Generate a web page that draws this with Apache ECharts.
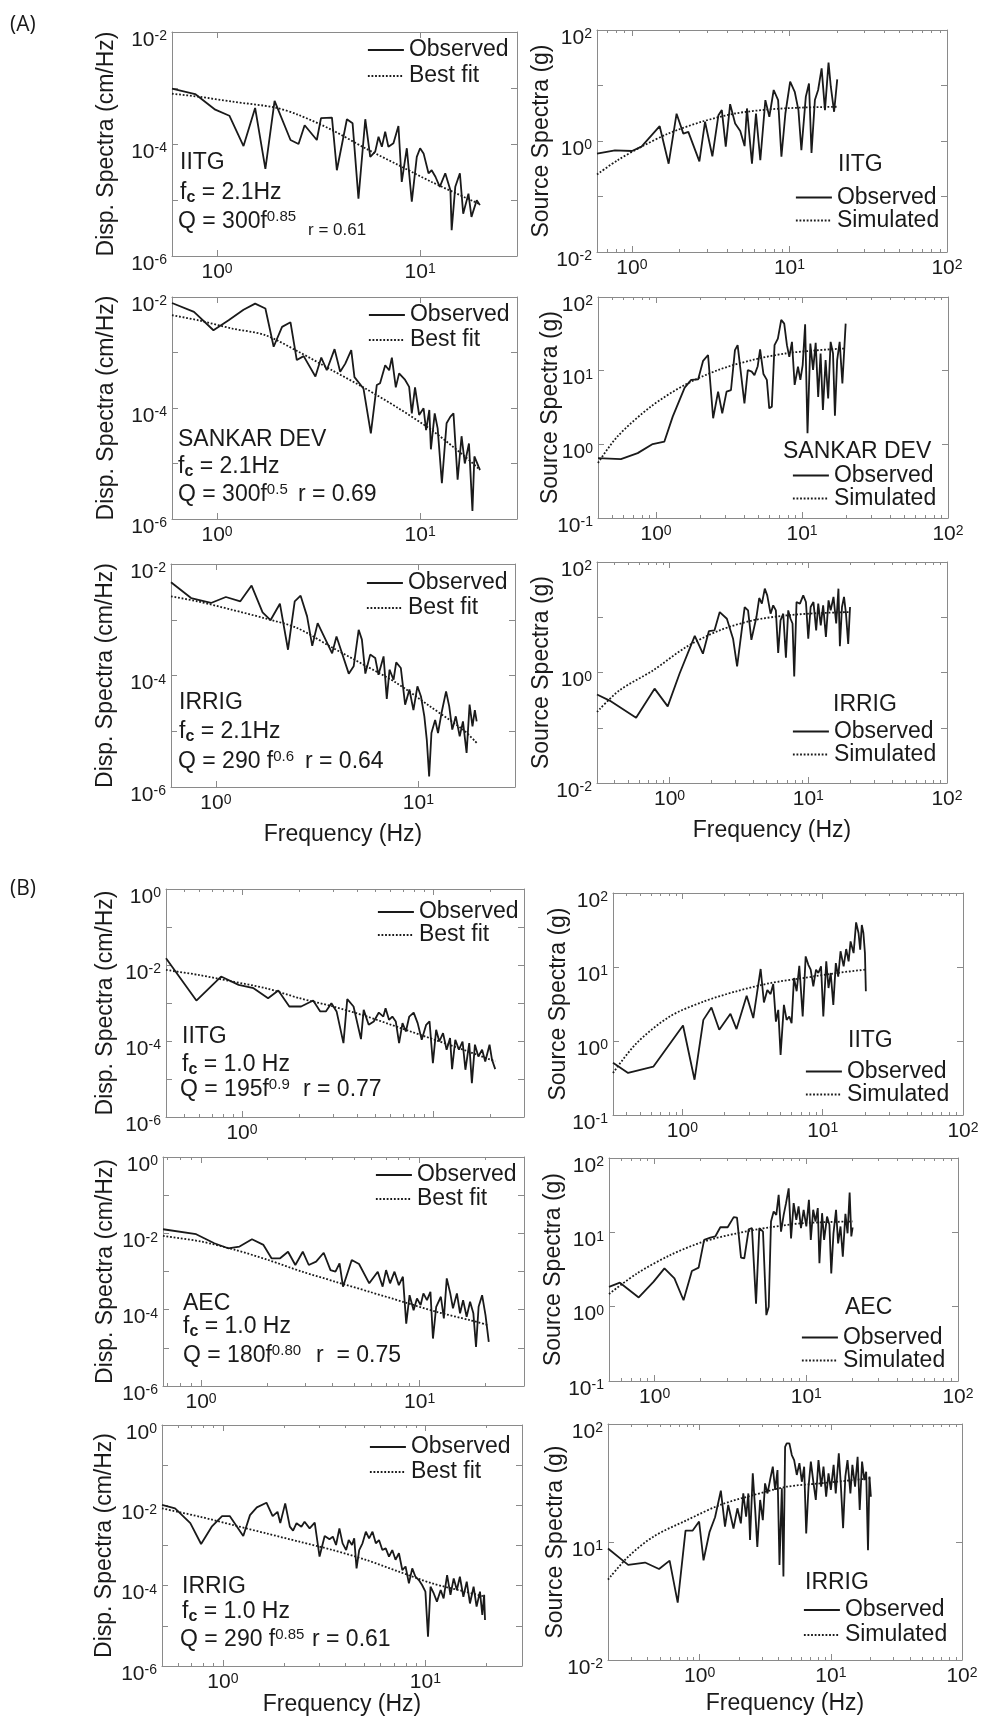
<!DOCTYPE html>
<html>
<head>
<meta charset="utf-8">
<script src="https://cdn.jsdelivr.net/npm/echarts@6.0.0/dist/echarts.min.js"></script>
<style>
  html, body { margin: 0; padding: 0; background: #fff; }
  #main { width: 982px; height: 1718px; }
</style>
</head>
<body>
<div id="main"></div>
<script>
var FONT = '"Liberation Sans", Arial, Helvetica, sans-serif';
var INK = '#1a1a1a';
var FRAME = '#8a8a8a';

// tick labels: exponent of the tick -> printed text
var dispTickExpA = [-6, -4, -2];
var dispTickTextA = ['10^-6', '10^-4', '10^-2'];
var dispTickExpB = [-6, -4, -2, 0];
var dispTickTextB = ['10^-6', '10^-4', '10^-2', '10^0'];
var srcTickExpWide = [-2, 0, 2];
var srcTickTextWide = ['10^-2', '10^0', '10^2'];
var srcTickExp3 = [-1, 0, 1, 2];
var srcTickText3 = ['10^-1', '10^0', '10^1', '10^2'];
var srcTickExpIrrigB = [0, 1, 2];
var srcTickTextIrrigB = ['10^-2', '10^1', '10^2']; // as printed in the figure
var freqTickExp = [0, 1];
var freqTickText = ['10^0', '10^1'];
var freqTickExpWide = [0, 1, 2];
var freqTickTextWide = ['10^0', '10^1', '10^2'];
var freqTickExpB1 = [0];
var freqTickTextB1 = ['10^0'];

// ---- (A) IITG ----
var aIitgDispObs = [[0.6,9.7e-4],[0.78,7.8e-4],[0.98,4.1e-4],[1.15,3.2e-4],[1.35,9.2e-5],[1.54,4.4e-4],[1.73,3.6e-5],[1.92,5.9e-4],[2.30,1.18e-4],[2.52,1.0e-4],[2.70,2.16e-4],[3.10,1.18e-4],[3.25,2.9e-4],[3.68,2.96e-4],[3.89,3.4e-5],[4.36,2.77e-4],[4.65,2.34e-4],[4.97,1.06e-5],[5.37,2.77e-4],[5.68,5.9e-5],[6.01,7.3e-5],[6.24,1.35e-4],[6.48,8.9e-5],[6.73,1.66e-4],[6.98,8.9e-5],[7.39,1.03e-4],[7.82,2.1e-4],[8.12,2.1e-5],[8.60,8.4e-5],[9.10,9.3e-6],[9.63,5.9e-5],[10.0,8.4e-5],[10.4,6.8e-5],[11.0,3.0e-5],[11.4,3.4e-5],[11.9,2.6e-5],[12.5,1.72e-5],[13.3,3.0e-5],[14.1,1.5e-5],[14.3,2.9e-6],[14.9,1.72e-5],[15.7,3.0e-5],[16.3,5.7e-6],[17.3,1.3e-5],[17.9,5.0e-6],[19.0,9.9e-6],[19.7,8.1e-6]];
var aIitgDispFit = [[0.6,7.9e-4],[0.81,7.0e-4],[1.19,5.7e-4],[1.92,4.5e-4],[2.52,3.3e-4],[3.68,1.78e-4],[5.37,8.4e-5],[7.82,4.2e-5],[11.4,2.1e-5],[19.7,8.4e-6]];
var aIitgSrcObs = [[0.6,0.59],[0.78,0.68],[1.0,0.66],[1.15,0.79],[1.50,1.85],[1.71,0.39],[1.92,3.1],[2.12,1.36],[2.28,1.46],[2.68,0.43],[2.91,2.22],[3.24,0.53],[3.54,2.92],[3.72,3.6],[3.94,0.79],[4.20,4.6],[4.52,2.07],[4.87,1.52],[5.19,0.81],[5.37,3.86],[5.78,0.39],[6.13,3.13],[6.53,0.45],[7.03,5.46],[7.45,2.73],[7.94,8.3],[8.47,5.46],[8.89,0.52],[9.42,3.13],[10.1,11.7],[10.8,7.7],[11.4,3.6],[11.9,0.68],[12.7,6.3],[13.3,10.9],[13.8,0.61],[14.5,5.46],[15.2,8.3],[16.0,20.3],[16.8,3.6],[17.7,25.8],[18.3,9.5],[19.2,3.36],[20.1,12.9]];
var aIitgSrcSim = [[0.6,0.25],[0.81,0.45],[1.15,0.79],[1.70,1.36],[2.77,2.22],[4.52,3.13],[7.38,3.7],[12.0,4.0],[20.1,4.14]];

// ---- (A) SANKAR DEV ----
var aSankarDispObs = [[0.6,7.8e-3],[0.77,5.4e-3],[0.96,2.52e-3],[1.14,3.8e-3],[1.35,5.9e-3],[1.54,7.6e-3],[1.73,6.2e-3],[1.90,1.27e-3],[2.09,2.9e-3],[2.30,3.5e-3],[2.47,7.3e-4],[2.67,8.6e-4],[3.05,3.7e-4],[3.26,8.1e-4],[3.47,4.8e-4],[3.79,1.15e-3],[4.04,4.5e-4],[4.28,6.3e-4],[4.58,1.10e-3],[4.75,3.6e-4],[5.26,2.25e-4],[5.72,3.5e-5],[6.12,2.6e-4],[6.35,2.8e-4],[6.73,5.9e-4],[7.04,4.8e-4],[7.26,8.1e-4],[7.59,2.35e-4],[7.88,4.2e-4],[8.44,3.2e-4],[8.83,2.4e-4],[9.10,8.0e-5],[9.44,2.35e-4],[9.89,7.5e-5],[10.4,9.9e-5],[10.7,4.0e-5],[11.1,9.2e-5],[11.3,1.8e-5],[11.8,8.0e-5],[12.2,4.3e-5],[12.8,4.4e-6],[13.5,5.3e-5],[14.1,7.0e-5],[14.6,8.0e-5],[15.3,5.1e-6],[16.0,3.1e-5],[16.6,1.0e-5],[17.4,2.3e-5],[18.1,1.4e-6],[18.5,1.34e-5],[19.4,8.8e-6],[19.7,7.7e-6]];
var aSankarDispFit = [[0.6,4.7e-3],[0.81,3.8e-3],[1.19,2.7e-3],[1.73,2.05e-3],[2.52,1.03e-3],[3.68,4.8e-4],[5.37,2.25e-4],[7.82,9.9e-5],[11.4,4.0e-5],[16.6,1.34e-5],[19.7,7.7e-6]];
var aSankarSrcObs = [[0.4,0.65],[0.574,0.63],[0.748,0.76],[0.948,1.01],[1.14,1.09],[1.30,2.38],[1.57,5.9],[1.74,7.5],[1.94,7.6],[2.10,13.6],[2.27,16.3],[2.46,2.26],[2.66,5.2],[2.84,2.64],[3.04,5.2],[3.26,5.46],[3.47,19.0],[3.62,22.2],[4.03,3.6],[4.25,10.2],[4.52,9.7],[4.72,8.7],[4.97,11.5],[5.16,19.4],[5.44,9.0],[5.74,7.5],[5.96,3.08],[6.21,3.25],[6.48,22.2],[6.83,27.3],[7.20,49],[7.55,43.5],[7.88,22.2],[8.18,15.4],[8.53,24.6],[8.90,6.4],[9.38,11.3],[9.74,7.5],[10.1,11.9],[10.5,42.7],[10.9,1.42],[11.4,23.4],[11.9,10.2],[12.4,23.9],[12.9,4.4],[13.4,17.1],[13.9,2.92],[14.5,13.9],[15.1,4.2],[15.7,24.6],[16.3,17.1],[16.8,2.45],[17.4,13.9],[18.1,24.6],[18.9,6.7],[19.9,43.5]];
var aSankarSrcSim = [[0.4,0.56],[0.544,1.28],[0.92,3.25],[1.57,6.4],[2.66,10.2],[4.52,13.9],[7.67,17.1],[13.0,19.0],[19.9,20]];

// ---- (A) IRRIG ----
var aIrrigDispObs = [[0.6,4.7e-3],[0.754,2.45e-3],[0.945,2.0e-3],[1.12,2.56e-3],[1.32,2.14e-3],[1.50,4.1e-3],[1.70,1.36e-3],[1.86,9.8e-4],[2.07,1.94e-3],[2.27,2.9e-4],[2.45,2.14e-3],[2.62,2.7e-3],[2.82,1.15e-3],[2.99,3.4e-4],[3.18,8.7e-4],[3.75,2.5e-4],[3.94,5.0e-4],[4.53,1.08e-4],[4.79,1.46e-4],[5.07,6.6e-4],[5.26,4.4e-4],[5.47,1.08e-4],[5.78,2.37e-4],[6.12,2.06e-4],[6.35,1.03e-4],[6.73,2.2e-4],[6.98,3.8e-5],[7.20,1.27e-4],[7.54,8.4e-5],[7.77,1.72e-4],[8.19,1.36e-4],[8.60,3.0e-5],[9.03,5.6e-5],[9.45,2.4e-5],[9.89,6.4e-5],[10.3,4.2e-5],[10.7,1.85e-5],[11.0,7.1e-6],[11.3,1.55e-6],[11.6,9.3e-6],[12.1,1.6e-5],[12.5,9.3e-6],[13.0,2.1e-5],[13.7,5.2e-5],[14.2,2.8e-5],[14.7,1.07e-5],[15.3,1.85e-5],[16.0,8.1e-6],[16.6,1.5e-5],[17.3,4.1e-6],[17.9,3.0e-5],[18.5,1.22e-5],[19.0,2.4e-5],[19.4,1.5e-5]];
var aIrrigDispFit = [[0.6,2.63e-3],[0.81,2.14e-3],[1.19,1.52e-3],[1.73,1.07e-3],[2.52,7.1e-4],[3.68,3.3e-4],[5.37,1.56e-4],[7.82,7.3e-5],[11.4,2.8e-5],[16.6,1.07e-5],[19.4,6.2e-6]];
var aIrrigSrcObs = [[0.3,0.40],[0.37,0.31],[0.574,0.152],[0.78,0.51],[0.97,0.244],[1.18,0.95],[1.52,4.6],[1.74,2.19],[1.92,5.6],[2.11,5.8],[2.30,12.4],[2.59,9.4],[2.87,4.1],[3.07,1.29],[3.48,15.3],[3.68,13.3],[3.89,3.9],[4.23,10.1],[4.43,22.3],[4.63,17.6],[4.86,32.9],[5.06,24.9],[5.35,11.6],[5.59,16.4],[5.84,13.3],[6.07,2.25],[6.31,8.8],[6.60,11.6],[6.90,1.85],[7.17,13.3],[7.45,9.4],[7.70,7.7],[7.92,0.85],[8.23,18.9],[8.71,17.6],[9.20,24.9],[9.62,18.9],[10.0,4.1],[10.4,15.3],[10.9,18.9],[11.4,5.8],[11.8,17.6],[12.3,7.1],[12.8,16.4],[13.4,4.4],[14.0,20.2],[14.5,13.3],[15.2,23.3],[15.9,7.7],[16.5,32.9],[16.9,2.98],[17.5,15.3],[18.1,23.3],[18.7,11.6],[19.4,3.3],[20.0,15.3]];
var aIrrigSrcSim = [[0.3,0.193],[0.435,0.475],[0.76,1.09],[1.32,2.9],[2.30,5.8],[4.0,8.8],[6.97,10.8],[12.1,11.9],[20.0,12.4]];

// ---- (B) IITG ----
var bIitgDispObs = [[0.4,1.5e-2],[0.577,1.16e-3],[0.777,4.97e-3],[0.96,3.0e-3],[1.15,2.45e-3],[1.37,1.34e-3],[1.55,2.13e-3],[1.77,8.1e-4],[2.04,8.1e-4],[2.36,1.16e-3],[2.57,6.0e-4],[2.75,6.0e-4],[2.94,9.9e-4],[3.13,6.0e-4],[3.40,8.8e-5],[3.56,1.26e-3],[3.84,8.1e-4],[4.20,1.12e-4],[4.34,6.6e-4],[4.61,2.67e-4],[4.90,3.27e-4],[5.21,5.6e-4],[5.50,4.4e-4],[5.65,7.3e-4],[5.89,3.6e-4],[6.13,4.4e-4],[6.39,3.27e-4],[6.65,8.8e-5],[6.93,2.95e-4],[7.22,1.78e-4],[7.52,4.4e-4],[7.93,5.6e-4],[8.32,2.95e-4],[8.74,1.08e-4],[9.22,2.67e-4],[9.60,3.27e-4],[10.0,2.6e-5],[10.4,1.97e-4],[10.8,9.7e-5],[11.3,1.61e-4],[11.8,5.9e-5],[12.3,1.19e-4],[12.6,1.82e-5],[13.1,1.08e-4],[13.7,5.9e-5],[14.3,9.7e-5],[14.8,1.75e-5],[15.5,8.8e-5],[16.0,7.8e-6],[16.6,8.0e-5],[17.3,3.9e-5],[18.1,5.9e-5],[18.8,2.9e-5],[19.8,8.0e-5],[20.4,3.2e-5],[21.2,1.82e-5]];
var bIitgDispFit = [[0.4,7.4e-3],[0.59,5.5e-3],[0.885,3.7e-3],[1.33,2.45e-3],[2.0,1.34e-3],[3.0,8.1e-4],[4.52,4.4e-4],[6.79,2.18e-4],[10.2,1.08e-4],[15.3,5.3e-5],[21.2,2.9e-5]];
var bIitgSrcObs = [[0.32,0.51],[0.41,0.37],[0.62,0.45],[1.01,1.62],[1.22,0.30],[1.41,1.93],[1.61,2.84],[1.83,1.42],[2.20,2.33],[2.43,1.45],[2.87,4.08],[3.20,2.04],[3.61,9.4],[3.81,3.32],[4.03,4.9],[4.25,4.3],[4.44,5.9],[4.64,1.83],[4.82,2.64],[5.01,0.65],[5.29,3.08],[5.53,1.93],[5.78,2.14],[6.0,1.74],[6.24,7.1],[6.52,4.7],[6.81,10.4],[7.20,2.14],[7.56,13.9],[7.90,10.7],[8.21,9.2],[8.57,5.46],[8.96,9.2],[9.31,8.3],[9.73,10.2],[10.1,2.14],[10.6,11.9],[11.0,5.2],[11.4,8.3],[11.9,3.08],[12.4,11.3],[12.9,7.4],[13.4,16.3],[14.1,10.2],[14.7,17.5],[15.3,11.9],[15.8,22.2],[16.6,15.4],[17.3,40],[18.0,28.8],[18.5,17.1],[19.0,37],[19.5,28.8],[20.0,15.4],[20.3,4.7]];
var bIitgSrcSim = [[0.32,0.37],[0.47,0.93],[0.81,2.14],[1.41,3.4],[2.43,4.7],[4.21,6.05],[7.28,7.1],[12.6,8.3],[20.0,9.2]];

// ---- (B) AEC ----
var bAecDispObs = [[0.67,1.28e-2],[0.95,9.5e-3],[1.15,5.5e-3],[1.33,4.06e-3],[1.50,4.5e-3],[1.71,7.0e-3],[1.93,4.97e-3],[2.10,2.22e-3],[2.30,2.22e-3],[2.50,3.3e-3],[2.70,1.48e-3],[2.92,3.3e-3],[3.11,1.48e-3],[3.36,1.81e-3],[3.64,3.1e-3],[3.91,1.09e-3],[4.12,9.9e-4],[4.30,1.64e-3],[4.46,4.0e-4],[4.89,2.0e-3],[5.28,1.57e-3],[5.88,4.9e-4],[6.43,9.9e-4],[6.77,4.0e-4],[7.02,1.09e-3],[7.32,4.9e-4],[7.67,9.9e-4],[8.03,4.4e-4],[8.38,7.3e-4],[8.68,4.3e-5],[8.99,2.4e-4],[9.38,9.7e-5],[9.72,1.97e-4],[10.1,1.32e-4],[10.4,2.67e-4],[10.8,1.78e-4],[11.2,2.95e-4],[11.5,1.75e-5],[11.9,1.19e-4],[12.5,2.18e-4],[12.9,5.9e-5],[13.3,6.6e-4],[13.8,2.67e-4],[14.2,1.08e-4],[14.8,2.67e-4],[15.3,8.0e-5],[15.8,1.78e-4],[16.4,6.5e-5],[17.0,1.61e-4],[17.6,8.0e-5],[18.1,1.06e-5],[18.6,1.19e-4],[19.3,2.4e-4],[20.0,7.2e-5],[20.7,1.43e-5]];
var bAecDispFit = [[0.67,8.6e-3],[1.0,6.1e-3],[1.43,3.7e-3],[2.03,2.0e-3],[2.90,9.9e-4],[4.12,5.4e-4],[5.88,2.95e-4],[8.38,1.61e-4],[11.9,8.8e-5],[17.0,5.3e-5],[20.7,3.9e-5]];
var bAecSrcObs = [[0.5,1.85],[0.59,2.10],[0.785,1.33],[0.985,2.17],[1.16,3.28],[1.35,2.40],[1.55,1.22],[1.76,3.02],[1.95,3.35],[2.12,7.9],[2.33,8.5],[2.51,8.8],[2.71,11.7],[3.03,11.7],[3.32,16.0],[3.49,15.8],[3.71,4.56],[3.90,4.47],[4.17,11.0],[4.38,11.4],[4.66,1.10],[4.90,11.4],[5.18,10.2],[5.45,0.77],[5.65,1.0],[5.85,14.0],[6.09,19.1],[6.34,17.2],[6.57,32],[6.81,10.2],[7.09,17.2],[7.35,24.7],[7.65,39],[7.93,8.3],[8.25,24.7],[8.59,14.7],[8.89,22.3],[9.22,11.4],[9.60,20.1],[10.0,12.0],[10.4,27.4],[10.7,7.9],[11.1,20.1],[11.5,14.0],[11.9,21.2],[12.2,3.83],[12.7,18.1],[13.1,7.9],[13.7,16.3],[14.2,12.6],[14.6,2.8],[15.1,9.7],[15.7,20.1],[16.2,7.1],[16.8,12.0],[17.4,4.7],[18.1,17.7],[18.7,9.7],[19.3,34.4],[19.8,8.8],[20.2,11.7]];
var bAecSrcSim = [[0.5,1.48],[0.765,2.8],[1.27,4.95],[2.10,7.5],[3.49,9.7],[5.79,11.7],[9.6,13.3],[20.2,14.0]];

// ---- (B) IRRIG ----
var bIrrigDispObs = [[0.5,1.02e-2],[0.58,8.4e-3],[0.69,3.6e-3],[0.78,1.09e-3],[0.88,2.94e-3],[0.99,5.4e-3],[1.08,5.4e-3],[1.26,1.73e-3],[1.36,5.7e-3],[1.47,8.9e-3],[1.64,1.16e-2],[1.76,5.4e-3],[1.86,6.9e-3],[1.92,3.6e-3],[2.03,1.12e-2],[2.14,2.94e-3],[2.22,2.34e-3],[2.31,3.6e-3],[2.44,2.94e-3],[2.53,3.9e-3],[2.68,2.67e-3],[2.84,3.7e-3],[3.0,5.3e-4],[3.18,1.73e-3],[3.36,1.43e-3],[3.49,1.66e-3],[3.62,1.03e-3],[3.76,2.67e-3],[3.90,1.13e-3],[4.06,7.7e-4],[4.18,1.37e-3],[4.34,1.03e-3],[4.45,1.51e-3],[4.57,2.7e-4],[4.71,7.7e-4],[4.89,1.13e-3],[5.08,2.21e-3],[5.27,1.51e-3],[5.48,2.21e-3],[5.69,1.13e-3],[5.90,1.37e-3],[6.13,7.7e-4],[6.37,8.5e-4],[6.61,5.3e-4],[6.86,7.7e-4],[7.12,4.4e-4],[7.40,6.4e-4],[7.69,2.45e-4],[7.98,3.0e-4],[8.29,1.14e-4],[8.61,2.7e-4],[8.93,1.67e-4],[9.28,1.38e-4],[9.63,1.04e-4],[10.0,7.1e-5],[10.3,5.4e-6],[10.6,9.4e-5],[11.0,6.4e-5],[11.4,4.0e-5],[11.9,7.8e-5],[12.3,4.8e-5],[12.8,1.84e-4],[13.3,5.9e-5],[13.8,1.52e-4],[14.3,7.8e-5],[14.8,1.67e-4],[15.4,5.3e-5],[16.0,1.26e-4],[16.6,3.6e-5],[17.3,9.4e-5],[17.9,3.0e-5],[18.6,7.1e-5],[19.1,1.86e-5],[19.5,5.9e-5],[19.7,1.4e-5]];
var bIrrigDispFit = [[0.5,8.4e-3],[0.77,5.2e-3],[1.13,3.2e-3],[1.64,2.0e-3],[2.39,1.24e-3],[3.49,7.7e-4],[5.08,4.4e-4],[7.40,2.23e-4],[10.8,1.14e-4],[15.7,7.1e-5],[19.7,5.3e-5]];
var bIrrigSrcObs = [[0.2,8.8],[0.285,6.4],[0.383,6.7],[0.49,5.9],[0.59,6.95],[0.68,3.06],[0.78,12.5],[0.885,12.5],[0.99,14.9],[1.07,7.0],[1.19,12.2],[1.31,16.2],[1.45,27.2],[1.56,13.5],[1.65,20.6],[1.81,13.0],[1.94,19.3],[2.06,14.4],[2.15,25.8],[2.26,16.4],[2.35,25.8],[2.42,10.4],[2.54,38.2],[2.65,18.7],[2.75,9.1],[2.89,22.7],[3.03,15.3],[3.15,31.4],[3.29,25.8],[3.44,33.5],[3.61,43.5],[3.76,27.6],[3.92,40.7],[4.06,6.4],[4.23,28.5],[4.35,5.1],[4.48,64],[4.61,68.6],[4.83,68.6],[5.04,54.6],[5.25,49.5],[5.50,37.0],[5.76,46.5],[6.01,32.4],[6.26,43.5],[6.49,11.8],[6.76,29.4],[7.04,48],[7.38,31.4],[7.68,22.7],[8.05,49.5],[8.44,29.4],[8.79,43.5],[9.21,24.2],[9.60,38.2],[10.0,27.6],[10.5,45],[10.9,25.8],[11.5,56.4],[11.9,31.4],[12.4,13.1],[12.9,35.8],[13.4,49.5],[14.1,25.8],[14.6,45],[15.3,29.4],[16.0,52.8],[16.6,18.7],[17.3,48],[18.0,33.5],[18.6,39.4],[19.2,8.5],[19.7,35.8],[20.2,24.2]];
var bIrrigSrcSim = [[0.2,4.8],[0.285,7.5],[0.443,11.1],[0.796,15.3],[1.43,20.6],[2.57,25.0],[4.61,29.4],[8.29,31.4],[14.9,33.5],[20,34.7]];

var DISP = 'Disp. Spectra (cm/Hz)';
var SRC = 'Source Spectra (g)';
var FREQ = 'Frequency (Hz)';

// layout of the twelve panels: box = [left, top, width, height]
var panels = [
  { box: [172, 32, 345, 224], x: [0.6, 30], y: [1e-6, 1e-2], xt: [freqTickExp, freqTickText], yt: [dispTickExpA, dispTickTextA], obs: aIitgDispObs, fit: aIitgDispFit, fitName: 'Best fit', yName: DISP, yGap: 54, leg: [367, 50, 26] },
  { box: [597, 30, 350, 222], x: [0.6, 100], y: [1e-2, 1e2], xt: [freqTickExpWide, freqTickTextWide], yt: [srcTickExpWide, srcTickTextWide], obs: aIitgSrcObs, fit: aIitgSrcSim, fitName: 'Simulated', yName: SRC, yGap: 44, leg: [795, 197, 22], minor: true },
  { box: [172, 297, 345, 222], x: [0.6, 30], y: [1e-6, 1e-2], xt: [freqTickExp, freqTickText], yt: [dispTickExpA, dispTickTextA], obs: aSankarDispObs, fit: aSankarDispFit, fitName: 'Best fit', yName: DISP, yGap: 54, leg: [368, 315, 25] },
  { box: [598, 297, 350, 221], x: [0.4, 100], y: [0.1, 100], xt: [freqTickExpWide, freqTickTextWide], yt: [srcTickExp3, srcTickText3], obs: aSankarSrcObs, fit: aSankarSrcSim, fitName: 'Simulated', yName: SRC, yGap: 36, leg: [792, 475, 22], minor: true },
  { box: [171, 564, 344, 223], x: [0.6, 30], y: [1e-6, 1e-2], xt: [freqTickExp, freqTickText], yt: [dispTickExpA, dispTickTextA], obs: aIrrigDispObs, fit: aIrrigDispFit, fitName: 'Best fit', yName: DISP, yGap: 54, leg: [366, 583, 25], xName: FREQ, xGap: 36 },
  { box: [597, 562, 350, 221], x: [0.3, 100], y: [1e-2, 1e2], xt: [freqTickExpWide, freqTickTextWide], yt: [srcTickExpWide, srcTickTextWide], obs: aIrrigSrcObs, fit: aIrrigSrcSim, fitName: 'Simulated', yName: SRC, yGap: 44, leg: [792, 731, 22], xName: FREQ, xGap: 36, minor: true },
  { box: [166, 889, 358, 228], x: [0.4, 30], y: [1e-6, 1], xt: [freqTickExpB1, freqTickTextB1], yt: [dispTickExpB, dispTickTextB], obs: bIitgDispObs, fit: bIitgDispFit, fitName: 'Best fit', yName: DISP, yGap: 49, leg: [377, 912, 23], minor: true },
  { box: [613, 893, 350, 222], x: [0.32, 100], y: [0.1, 100], xt: [freqTickExpWide, freqTickTextWide], yt: [srcTickExp3, srcTickText3], obs: bIitgSrcObs, fit: bIitgSrcSim, fitName: 'Simulated', yName: SRC, yGap: 43, leg: [805, 1070, 20], minor: true },
  { box: [163, 1157, 361, 229], x: [0.67, 30], y: [1e-6, 1], xt: [freqTickExp, freqTickText], yt: [dispTickExpB, dispTickTextB], obs: bAecDispObs, fit: bAecDispFit, fitName: 'Best fit', yName: DISP, yGap: 46, leg: [375, 1175, 24], minor: true },
  { box: [609, 1158, 349, 223], x: [0.5, 100], y: [0.1, 100], xt: [freqTickExpWide, freqTickTextWide], yt: [srcTickExp3, srcTickText3], obs: bAecSrcObs, fit: bAecSrcSim, fitName: 'Simulated', yName: SRC, yGap: 44, leg: [801, 1337, 22], minor: true },
  { box: [162, 1425, 360, 241], x: [0.5, 30], y: [1e-6, 1], xt: [freqTickExp, freqTickText], yt: [dispTickExpB, dispTickTextB], obs: bIrrigDispObs, fit: bIrrigDispFit, fitName: 'Best fit', yName: DISP, yGap: 46, leg: [369, 1447, 25], xName: FREQ, xGap: 27, minor: true },
  { box: [608, 1424, 354, 236], x: [0.2, 100], y: [1, 100], xt: [freqTickExpWide, freqTickTextWide], yt: [srcTickExpIrrigB, srcTickTextIrrigB], obs: bIrrigSrcObs, fit: bIrrigSrcSim, fitName: 'Simulated', yName: SRC, yGap: 41, leg: [803, 1610, 25], xName: FREQ, xGap: 32, minor: true }
];

// text written inside the panels
var notes = [
  // [x, y, text, small]
  [180, 163, '{n|IITG}'], [180, 193, '{n|f}{sub|c}{n| = 2.1Hz}'], [178, 222, '{n|Q = 300f}{sup|0.85}'], [308, 230, '{n|r = 0.61}', 1],
  [178, 440, '{n|SANKAR DEV}'], [178, 467, '{n|f}{sub|c}{n| = 2.1Hz}'], [178, 495, '{n|Q = 300f}{sup|0.5}'], [298, 495, '{n|r = 0.69}'],
  [179, 703, '{n|IRRIG}'], [179, 732, '{n|f}{sub|c}{n| = 2.1Hz}'], [178, 762, '{n|Q = 290 f}{sup|0.6}'], [305, 762, '{n|r = 0.64}'],
  [182, 1037, '{n|IITG}'], [182, 1065, '{n|f}{sub|c}{n| = 1.0 Hz}'], [180, 1090, '{n|Q = 195f}{sup|0.9}'], [303, 1090, '{n|r = 0.77}'],
  [183, 1304, '{n|AEC}'], [183, 1327, '{n|f}{sub|c}{n| = 1.0 Hz}'], [183, 1356, '{n|Q = 180f}{sup|0.80}'], [316, 1356, '{n|r  = 0.75}'],
  [182, 1587, '{n|IRRIG}'], [182, 1612, '{n|f}{sub|c}{n| = 1.0 Hz}'], [180, 1640, '{n|Q = 290 f}{sup|0.85}'], [312, 1640, '{n|r = 0.61}'],
  [838, 165, '{n|IITG}'], [783, 452, '{n|SANKAR DEV}'], [833, 705, '{n|IRRIG}'],
  [848, 1041, '{n|IITG}'], [845, 1308, '{n|AEC}'], [805, 1583, '{n|IRRIG}']
];

function powText(t) {
  var parts = t.split('^');
  return '{b|' + parts[0] + '}{s|' + parts[1] + '}';
}

function tickLabeler(exps, texts) {
  return function (v) {
    var e = Math.log10(v);
    for (var k = 0; k < exps.length; k++) {
      if (Math.abs(e - exps[k]) < 1e-6) return powText(texts[k]);
    }
    return '';
  };
}

// 2..9 times each power of ten inside the axis range (log minor ticks)
function minorValues(min, max) {
  var out = [];
  for (var n = Math.floor(Math.log10(min)); n <= Math.ceil(Math.log10(max)); n++) {
    for (var k = 2; k <= 9; k++) {
      var v = k * Math.pow(10, n);
      if (v > min * 1.0001 && v < max * 0.9999) out.push(v);
    }
  }
  return out;
}

var tickRich = {
  b: { fontFamily: FONT, fontSize: 21, color: INK, lineHeight: 21 },
  s: { fontFamily: FONT, fontSize: 14, color: INK, lineHeight: 14, verticalAlign: 'top' }
};

var nameStyle = { fontFamily: FONT, fontSize: 23, color: INK };
var edgeLine = { show: true, onZero: false, lineStyle: { color: FRAME, width: 1 } };
var noLine = { show: false, onZero: false };
var innerTick = { show: true, inside: true, length: 6, lineStyle: { color: FRAME, width: 1 } };

var grids = [], xAxes = [], yAxes = [], series = [], legends = [];

panels.forEach(function (p, i) {
  grids.push({ left: p.box[0], top: p.box[1], width: p.box[2], height: p.box[3], show: false, outerBoundsMode: 'none' });

  var xi = xAxes.length, yi = yAxes.length;
  xAxes.push({
    type: 'log', gridIndex: i, min: p.x[0], max: p.x[1], position: 'bottom',
    axisLine: edgeLine, axisTick: innerTick, splitLine: { show: false },
    axisLabel: { formatter: tickLabeler(p.xt[0], p.xt[1]), margin: 6, rich: tickRich, hideOverlap: false },
    name: p.xName || '', nameLocation: 'middle', nameGap: p.xGap || 30, nameTextStyle: nameStyle, nameMoveOverlap: false
  });
  xAxes.push({
    type: 'log', gridIndex: i, min: p.x[0], max: p.x[1], position: 'top',
    axisLine: edgeLine, axisTick: innerTick, splitLine: { show: false }, axisLabel: { show: false }
  });
  if (p.minor) {
    ['bottom', 'top'].forEach(function (pos) {
      xAxes.push({
        type: 'log', gridIndex: i, min: p.x[0], max: p.x[1], position: pos,
        axisLine: noLine, splitLine: { show: false }, axisLabel: { show: false },
        axisTick: { show: true, inside: true, length: 3, customValues: minorValues(p.x[0], p.x[1]), lineStyle: { color: FRAME, width: 1 } }
      });
    });
  }
  yAxes.push({
    type: 'log', gridIndex: i, min: p.y[0], max: p.y[1], position: 'left',
    axisLine: edgeLine, axisTick: innerTick, splitLine: { show: false },
    axisLabel: { formatter: tickLabeler(p.yt[0], p.yt[1]), margin: 5, rich: tickRich, padding: [16, 0, 0, 0], hideOverlap: false },
    name: p.yName, nameLocation: 'middle', nameRotate: 90, nameGap: p.yGap, nameTextStyle: nameStyle, nameMoveOverlap: false
  });
  yAxes.push({
    type: 'log', gridIndex: i, min: p.y[0], max: p.y[1], position: 'right',
    axisLine: edgeLine, axisTick: innerTick, splitLine: { show: false }, axisLabel: { show: false }
  });

  series.push({
    type: 'line', name: 'Observed', xAxisIndex: xi, yAxisIndex: yi, data: p.obs,
    symbol: 'none', showSymbol: false, silent: true, animation: false,
    lineStyle: { color: INK, width: 1.8 }, itemStyle: { color: INK }
  });
  series.push({
    type: 'line', name: p.fitName, xAxisIndex: xi, yAxisIndex: yi, data: p.fit, smooth: 0.3,
    symbol: 'none', showSymbol: false, silent: true, animation: false, z: 3,
    lineStyle: { color: INK, width: 1.8, type: 'dotted' }, itemStyle: { color: INK }
  });

  legends.push({
    data: ['Observed', p.fitName], orient: 'vertical', left: p.leg[0], top: p.leg[1] - p.leg[2] / 2,
    padding: 0, itemWidth: 36, itemHeight: 8, itemGap: 0, selectedMode: false,
    itemStyle: { opacity: 0, borderWidth: 0 },
    lineStyle: { width: 1.8 },
    textStyle: { fontFamily: FONT, fontSize: 23, color: INK, lineHeight: p.leg[2] }
  });
});

var noteRich = {
  n: { fontFamily: FONT, fontSize: 23, fill: INK, lineHeight: 26, verticalAlign: 'middle' },
  sub: { fontFamily: FONT, fontSize: 16, fontWeight: 'bold', fill: INK, lineHeight: 16, verticalAlign: 'bottom' },
  sup: { fontFamily: FONT, fontSize: 15, fill: INK, lineHeight: 15, verticalAlign: 'top' }
};
var noteRichSmall = {
  n: { fontFamily: FONT, fontSize: 17, fill: INK, lineHeight: 20, verticalAlign: 'middle' }
};

var graphics = notes.map(function (t) {
  return {
    type: 'text', x: t[0], y: t[1], silent: true,
    style: { text: t[2], rich: t[3] ? noteRichSmall : noteRich, fontFamily: FONT, fontSize: 23, fill: INK, verticalAlign: 'middle', align: 'left' }
  };
});
graphics.push({ type: 'text', x: 10, y: 25, silent: true, style: { text: '(A)', fontFamily: '"Open Sans", sans-serif', fontSize: 21, fill: INK, verticalAlign: 'middle' } });
graphics.push({ type: 'text', x: 10, y: 889, silent: true, style: { text: '(B)', fontFamily: '"Open Sans", sans-serif', fontSize: 21, fill: INK, verticalAlign: 'middle' } });

var chartDom = document.getElementById('main');
var myChart = echarts.init(chartDom, null, { renderer: 'canvas' });
var option = {
  backgroundColor: '#ffffff',
  animation: false,
  textStyle: { fontFamily: FONT, color: INK },
  grid: grids,
  xAxis: xAxes,
  yAxis: yAxes,
  legend: legends,
  series: series,
  graphic: graphics
};
option && myChart.setOption(option);
</script>
</body>
</html>
